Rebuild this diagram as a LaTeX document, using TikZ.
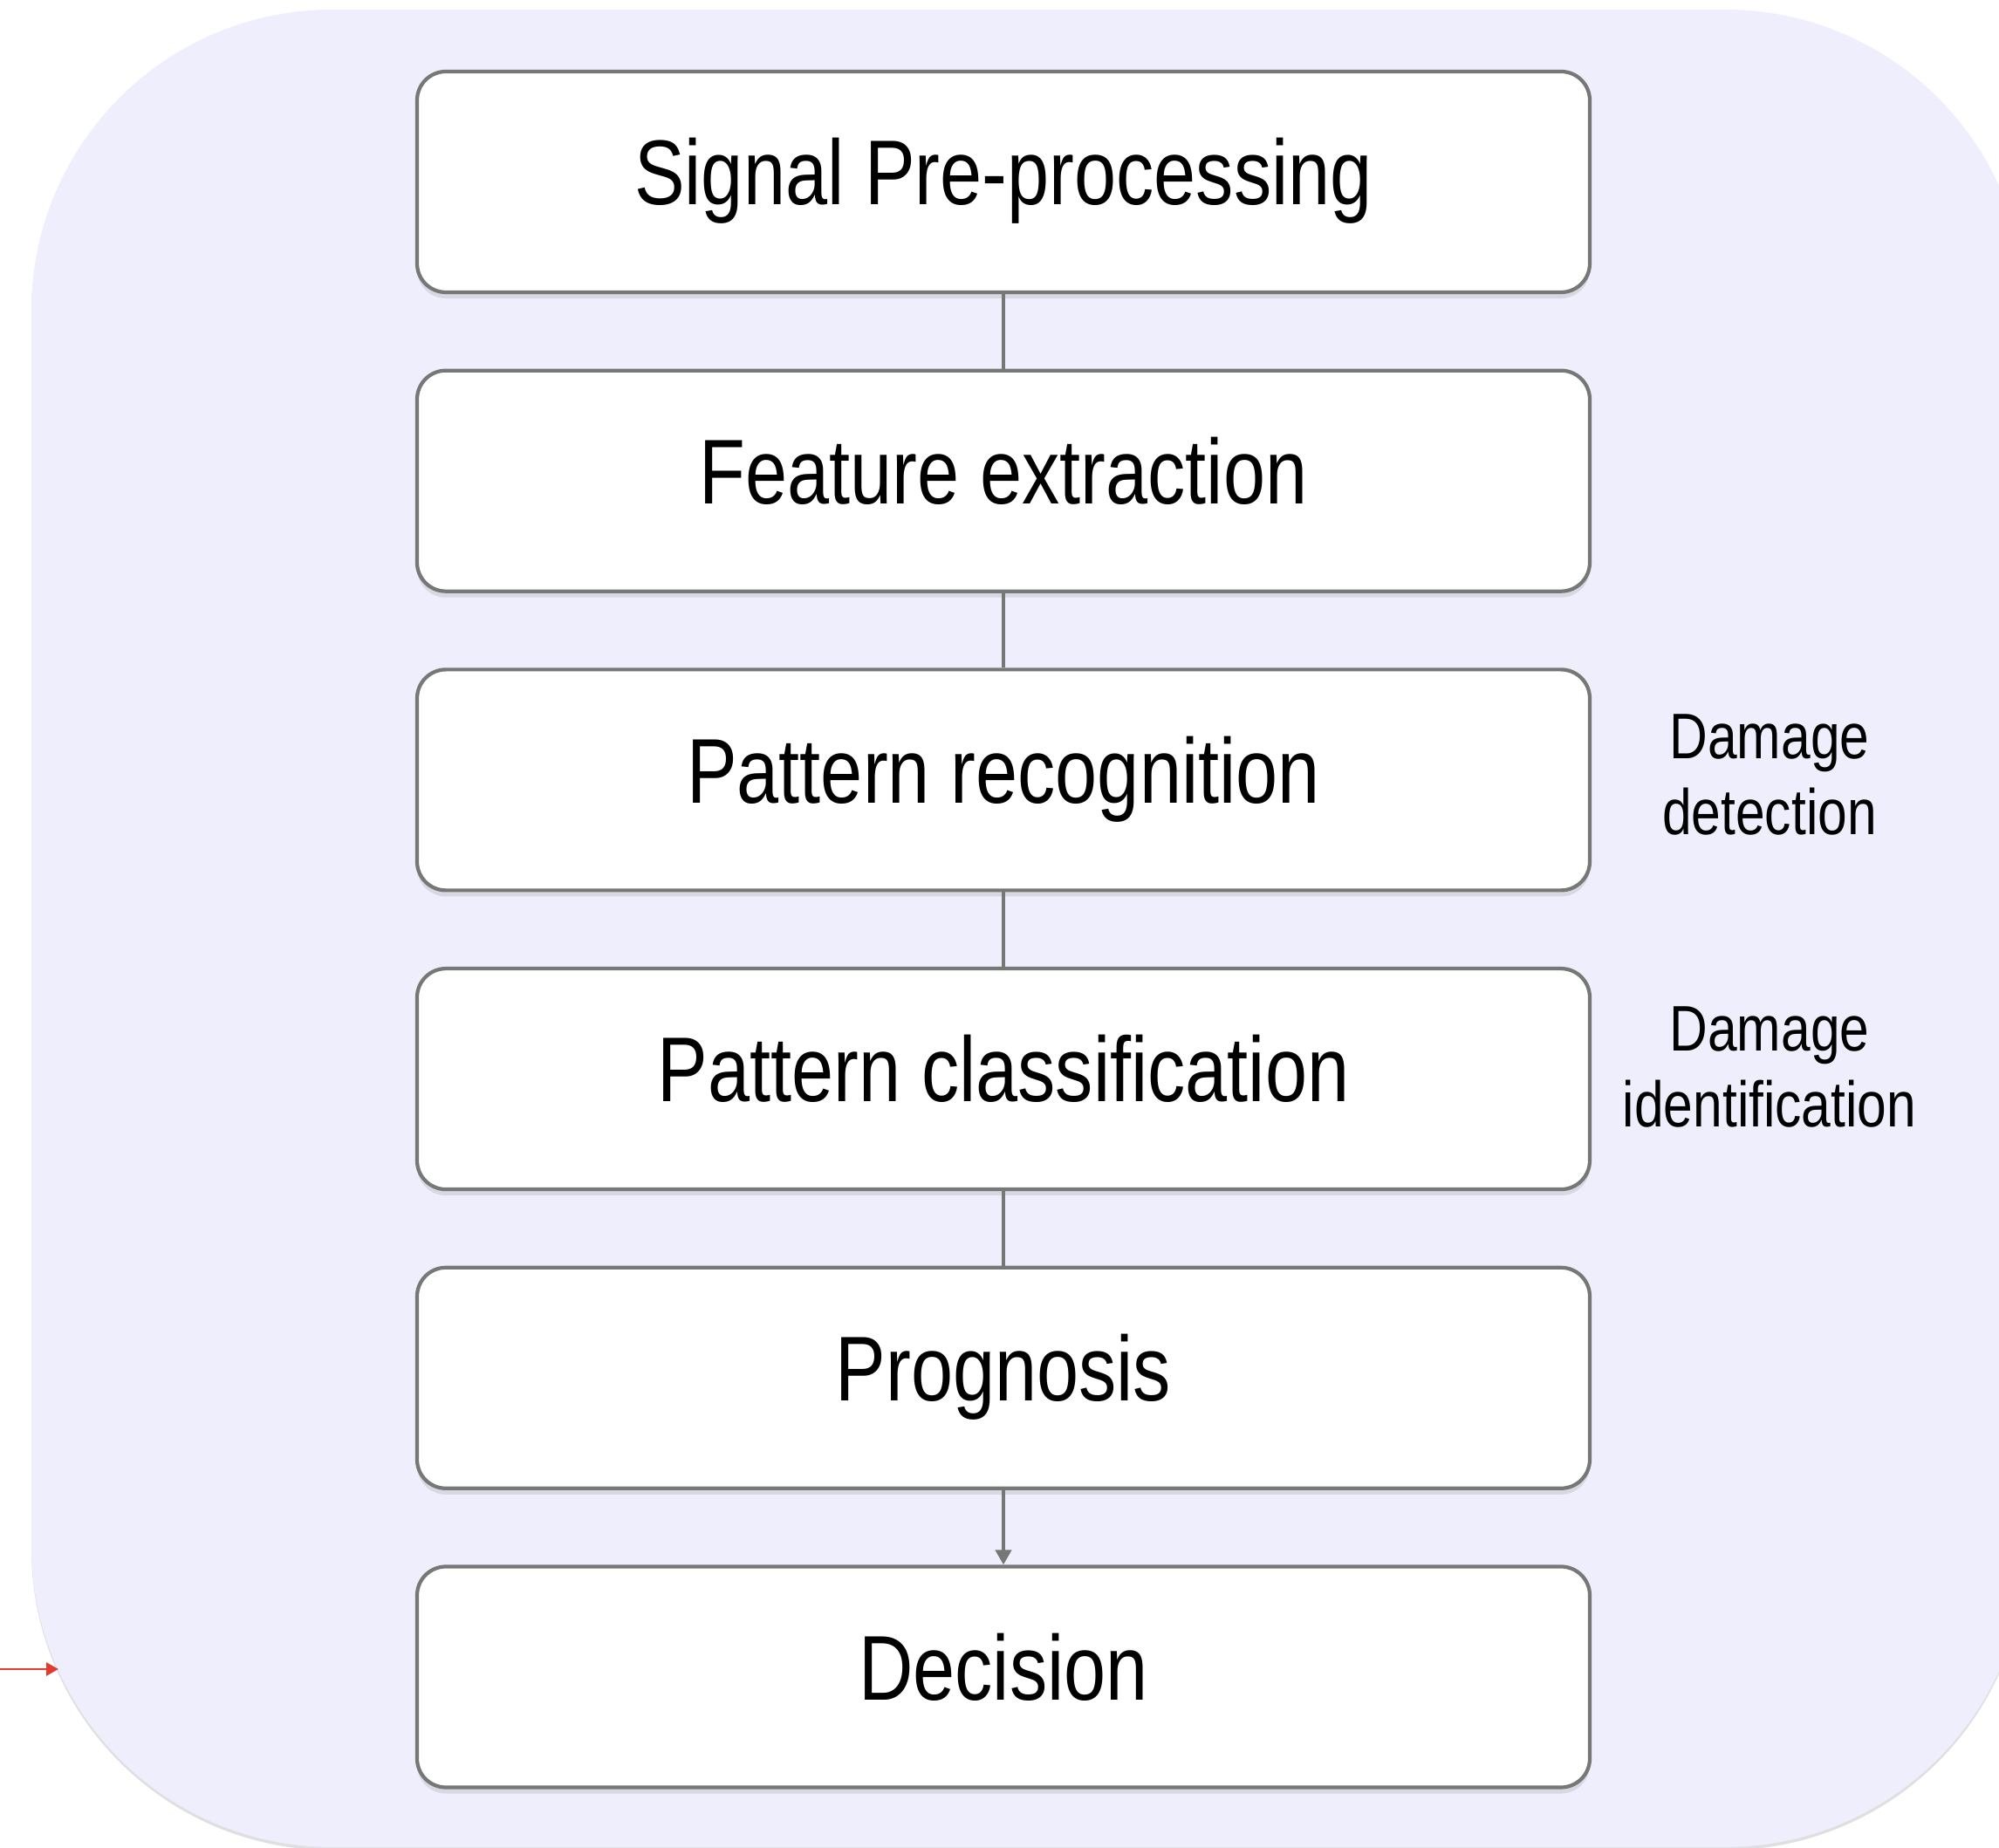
\documentclass[tikz,border=0pt]{standalone}
\usepackage{fontspec}
\newfontfamily\narrowfont{Liberation Sans}[FakeStretch=0.82]
\usetikzlibrary{arrows.meta,shadows}
\definecolor{bgcol}{HTML}{EEEEFC}
\definecolor{linecol}{HTML}{767876}
\definecolor{markcol}{HTML}{E03C31}
\tikzset{
	stage/.style={draw=linecol,line width=1.2pt,fill=white,rounded corners=0.33cm,
		minimum width=13.44cm,minimum height=2.53cm,
		font=\narrowfont\fontsize{30}{36}\selectfont,text height=22.5pt,text depth=7.5pt,
		drop shadow={shadow xshift=0pt,shadow yshift=-2pt,opacity=0.2}},
	link/.style={draw=linecol,line width=1.2pt},
	sidenote/.style={align=center,font=\narrowfont\fontsize{21}{24.5}\selectfont}
}
\begin{document}
\begin{tikzpicture}
\useasboundingbox (0,0) rectangle (22.91,21.18);
\clip (0,0) rectangle (22.91,21.18);
\fill[bgcol,rounded corners=3.45cm,drop shadow={shadow xshift=0pt,shadow yshift=-1pt,opacity=0.25}] (0.36,0.01) rectangle (23.22,21.07);
\foreach \name [count=\i] in {
	Signal Pre-processing,
	Feature extraction,
	Pattern recognition,
	Pattern classification,
	Prognosis,
	Decision%
	}{
	\node[stage] (stage\i) at (11.50,{19.095-3.427*(\i-1)}) {\name};
	}
\foreach \i in {1,...,4}{
	\pgfmathtruncatemacro\j{\i+1}
	\draw[link] (stage\i) -- (stage\j);
	}
\draw[link,-{Triangle[length=0.17cm,width=0.18cm]}] (stage5) -- (stage6);
\node[sidenote] (detect) at (20.28,12.30) {Damage\\detection};
\node[sidenote] (ident) at (20.28,8.95) {Damage\\identification};
\coordinate (feed) at (0,2.05);
\coordinate (rim) at (0.67,2.05);
\draw[markcol,line width=0.8pt,-{Triangle[length=0.14cm,width=0.15cm]}] (feed) -- (rim);
\end{tikzpicture}
\end{document}
